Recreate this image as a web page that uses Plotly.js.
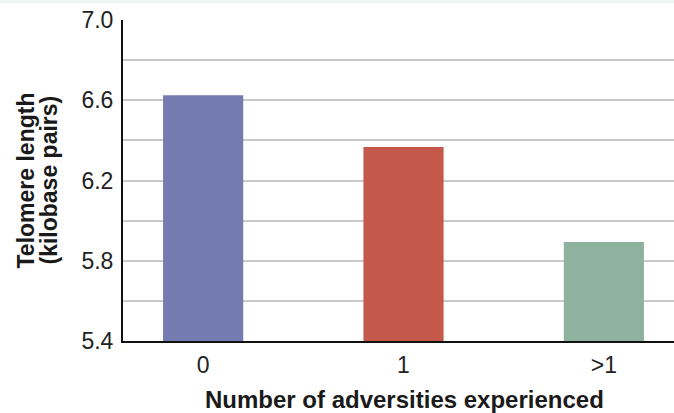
<!DOCTYPE html>
<html>
<head>
<meta charset="utf-8">
<script src="https://cdn.plot.ly/plotly-3.0.1.min.js"></script>
<style>
html,body{margin:0;padding:0;background:#fff;}
#strip{position:absolute;left:0;top:0;width:674px;height:3px;background:#eef6f1;z-index:5;}
#chart{position:absolute;left:0;top:0;width:674px;height:413px;}
</style>
</head>
<body>
<div id="chart"></div>
<div id="strip"></div>
<script>
const categories = ["0", "1", ">1"];
const telomereLength = [6.625, 6.367, 5.893];
const barColors = ["#747bb1", "#c4584b", "#8fb2a0"];
const yTickVals = [5.4, 5.8, 6.2, 6.6, 7.0];
const yTickText = ["5.4", "5.8", "6.2", "6.6", "7.0"];
const axisBase = 5.4;

const trace = {
  type: "bar",
  x: [0, 1, 2],
  y: telomereLength.map(v => v - axisBase),
  base: axisBase,
  width: 0.4,
  marker: {color: barColors, line: {width: 0}},
  hoverinfo: "skip"
};

const layout = {
  width: 674, height: 413,
  margin: {l: 123, r: 0, t: 20, b: 72},
  paper_bgcolor: "#ffffff",
  plot_bgcolor: "#ffffff",
  showlegend: false,
  font: {family: "Liberation Sans, Arial, sans-serif", color: "#222"},
  xaxis: {
    range: [-0.4, 2.35],
    tickvals: [0, 1, 2],
    ticktext: categories,
    showgrid: false,
    zeroline: false,
    showline: true,
    linecolor: "#111",
    linewidth: 2,
    ticks: "",
    ticklabelstandoff: 2,
    tickfont: {size: 23, color: "#222"}
  },
  yaxis: {
    range: [5.4, 7.0],
    tickvals: yTickVals,
    ticktext: yTickText,
    showgrid: true,
    gridcolor: "#c9c9c9",
    gridwidth: 2,
    minor: {dtick: 0.2, tick0: 5.4, showgrid: true, gridcolor: "#c9c9c9", gridwidth: 2},
    zeroline: false,
    showline: true,
    linecolor: "#111",
    linewidth: 2,
    ticks: "",
    ticklabelstandoff: 3,
    tickfont: {size: 23, color: "#222"}
  },
  annotations: [
    {text: "<b>Number of adversities experienced</b>", xref: "paper", yref: "paper",
     x: (404 - 123) / 551, y: (341 - 400) / 321, xanchor: "center", yanchor: "middle",
     showarrow: false, font: {size: 24, color: "#1a1a1a"}},
    {text: "<b>Telomere length</b>", xref: "paper", yref: "paper", x: (25 - 123) / 551, y: 0.5,
     xanchor: "center", yanchor: "middle", textangle: -90, showarrow: false,
     font: {size: 23, color: "#1a1a1a"}},
    {text: "<b>(kilobase pairs)</b>", xref: "paper", yref: "paper", x: (48 - 123) / 551, y: 0.5,
     xanchor: "center", yanchor: "middle", textangle: -90, showarrow: false,
     font: {size: 23, color: "#1a1a1a"}}
  ]
};

Plotly.newPlot("chart", [trace], layout, {displayModeBar: false, staticPlot: true});
</script>
</body>
</html>
